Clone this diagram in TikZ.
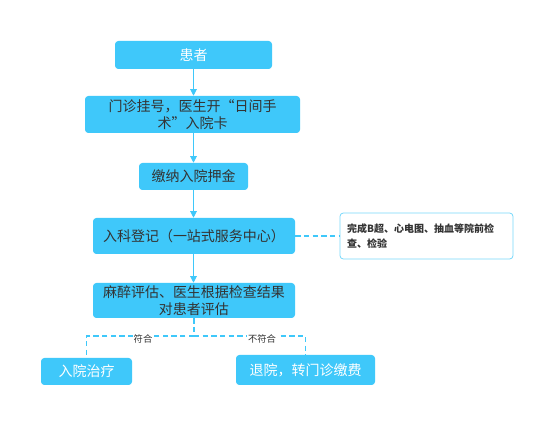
\documentclass[tikz,border=0pt]{standalone}
\usepackage{fontspec}
\setmainfont{Noto Sans CJK SC}
\usetikzlibrary{arrows.meta}
\definecolor{boxblue}{HTML}{3FC8FA}
\definecolor{txt}{HTML}{333333}
\begin{document}
\begin{tikzpicture}[x=0.75pt,y=-0.75pt,
  box/.style={fill=boxblue,draw=none,rounded corners=2.5pt,align=center,inner sep=0pt,font=\fontsize{10.5}{13}\selectfont},
  wtxt/.style={text=white},
  dtxt/.style={text=txt},
  link/.style={draw=boxblue,line width=0.8pt},
  arr/.style={link,-{Triangle[width=5pt,length=5pt]}},
  dlink/.style={link,dash pattern=on 4pt off 2.5pt},
  lbl/.style={font=\fontsize{7}{8}\selectfont,text=txt,fill=white,inner sep=0.5pt}
]
\useasboundingbox[fill=white] (0,0) rectangle (554,427);
\node[box,wtxt,minimum width=117.75pt,minimum height=21pt] (b1) at (193.5,55) {患者};
\node[box,dtxt,minimum width=161.25pt,minimum height=27.75pt] (b2) at (192.5,114.5) {门诊挂号，医生开“日间手\\术”入院卡};
\node[box,dtxt,minimum width=81.75pt,minimum height=20.25pt] (b3) at (193.5,176.5) {缴纳入院押金};
\node[box,dtxt,minimum width=151.5pt,minimum height=27pt] (b4) at (194,236) {入科登记（一站式服务中心）};
\node[draw=boxblue!70,line width=0.6pt,fill=white,rounded corners=2.5pt,minimum width=129.75pt,minimum height=34.5pt,text width=119pt,align=left,inner sep=0pt,text=txt,font=\fontsize{7.5}{11}\selectfont\bfseries] (s) at (426.5,236) {完成B超、心电图、抽血等院前检\\查、检验};
\node[box,dtxt,minimum width=151.5pt,minimum height=26.25pt] (b5) at (194,300.5) {麻醉评估、医生根据检查结果\\对患者评估};
\node[box,wtxt,minimum width=68.25pt,minimum height=20.25pt] (b6) at (86.5,371.5) {入院治疗};
\node[box,wtxt,minimum width=104.25pt,minimum height=22.5pt] (b7) at (305.5,370) {退院，转门诊缴费};
\draw[arr] (b1.south) -- (b1.south |- b2.north);
\draw[arr] (b1.south |- b2.south) -- (b1.south |- b3.north);
\draw[arr] (b1.south |- b3.south) -- (b1.south |- b4.north);
\draw[arr] (b1.south |- b4.south) -- (b1.south |- b5.north);
\draw[dlink] (b4.east) -- (s.west);
\coordinate (j) at (194,336);
\draw[dlink] (b5.south) -- (j);
\draw[dlink] (j) -| (b6.north);
\draw[dlink] (j) -| (b7.north);
\node[lbl] (l1) at (143,339) {符合};
\node[lbl] (l2) at (262,339) {不符合};
\end{tikzpicture}
\end{document}
